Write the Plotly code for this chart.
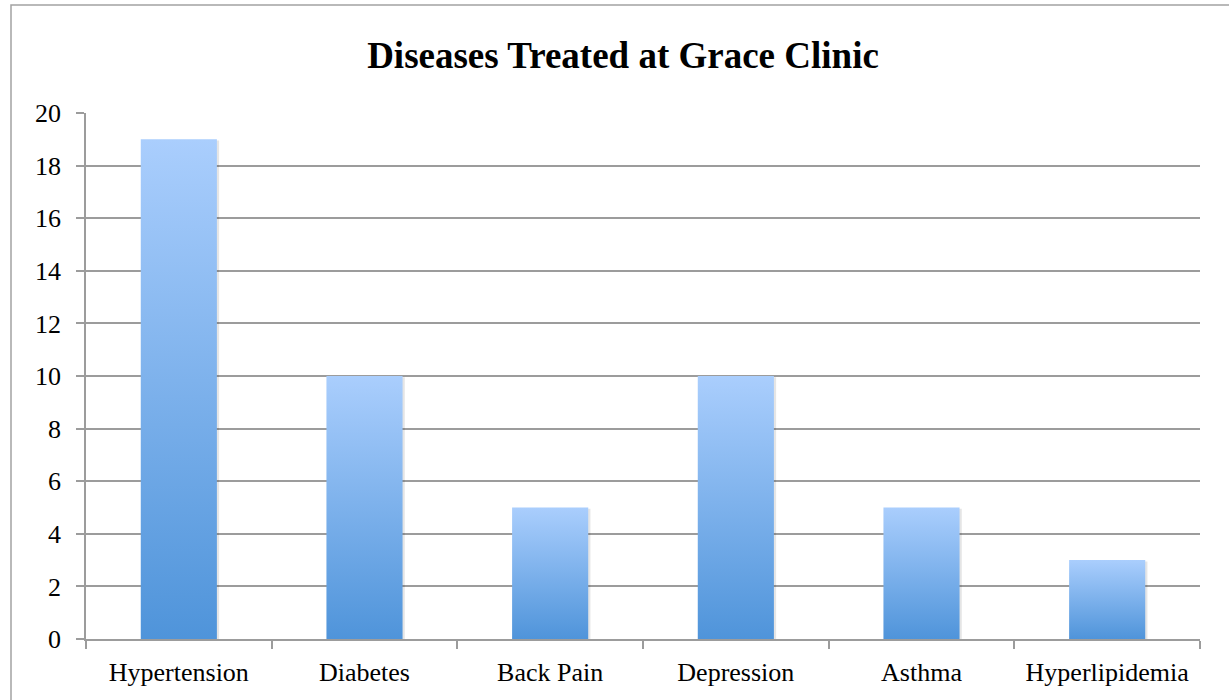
import plotly.graph_objects as go

# Disease counts for the clinic
diseases = ["Hypertension", "Diabetes", "Back Pain", "Depression", "Asthma", "Hyperlipidemia"]
patients = [19, 10, 5, 10, 5, 3]
y_ticks = [0, 2, 4, 6, 8, 10, 12, 14, 16, 18, 20]

BAR_WIDTH = 0.41
TOP_BLUE = "#aacefd"
BOTTOM_BLUE = "#4f94da"
GRID = "#9c9c9c"
FONT = "Liberation Serif, Times New Roman, serif"

fig = go.Figure()

# Base bar trace on the category axis (carries hover and the axis categories)
fig.add_trace(go.Bar(
    x=diseases, y=patients, width=BAR_WIDTH,
    marker=dict(color="rgba(0,0,0,0)", line=dict(width=0)),
    hovertemplate="%{x}: %{y}<extra></extra>",
    showlegend=False,
))

# Gradient fill for each bar, drawn on an overlaying numeric axis
for i, v in enumerate(patients):
    x0, x1 = i - BAR_WIDTH / 2, i + BAR_WIDTH / 2
    # soft shadow
    fig.add_trace(go.Scatter(
        x=[x0 + 0.012, x1 + 0.012, x1 + 0.012, x0 + 0.012, x0 + 0.012],
        y=[-0.12, -0.12, v - 0.05, v - 0.05, -0.12],
        fill="toself", mode="lines", line=dict(width=0),
        fillcolor="rgba(0,0,0,0.10)", hoverinfo="skip", showlegend=False,
        xaxis="x2",
    ))
    fig.add_trace(go.Scatter(
        x=[x0, x1, x1, x0, x0],
        y=[0, 0, v, v, 0],
        fill="toself", mode="lines", line=dict(width=0),
        fillgradient=dict(type="vertical", start=0, stop=v,
                          colorscale=[[0, BOTTOM_BLUE], [1, TOP_BLUE]]),
        hoverinfo="skip", showlegend=False,
        xaxis="x2",
    ))

L, R, T, B = 86, 29, 113, 61
W, H = 1229, 700
pw, ph = W - L - R, H - T - B

fig.update_layout(
    width=W, height=H,
    margin=dict(l=L, r=R, t=T, b=B, pad=0),
    paper_bgcolor="white", plot_bgcolor="white",
    font=dict(family=FONT, color="black", size=26),
    title=dict(
        text="<b>Diseases Treated at Grace Clinic</b>",
        font=dict(family=FONT, size=37, color="black"),
        x=623 / W, xanchor="center", xref="container",
        y=1 - 55 / H, yanchor="middle", yref="container",
    ),
    xaxis=dict(
        type="category", tickson="boundaries",
        ticks="outside", ticklen=8, tickcolor=GRID, tickwidth=1.5,
        showline=True, linecolor=GRID, linewidth=1.5,
        showgrid=False, zeroline=False,
        tickfont=dict(family=FONT, size=26, color="black"),
        ticklabelstandoff=9,
        range=[-0.5, 5.5],
    ),
    xaxis2=dict(
        overlaying="x", range=[-0.5, 5.5], visible=False,
    ),
    yaxis=dict(
        range=[0, 20], tickvals=y_ticks,
        ticks="outside", ticklen=8, tickcolor=GRID, tickwidth=1.5,
        showline=True, linecolor=GRID, linewidth=1.5,
        showgrid=True, gridcolor=GRID, gridwidth=1.5,
        zeroline=False,
        tickfont=dict(family=FONT, size=26, color="black"),
        ticklabelstandoff=10,
    ),
    bargap=0.59,
)

# Outer chart frame
fig.add_shape(
    type="rect", xref="paper", yref="paper",
    x0=(11 - L) / pw, x1=(1236 - L) / pw,
    y0=(H - B - 706) / ph, y1=(H - B - 5) / ph,
    line=dict(color="#a2a2a2", width=1.5), fillcolor="rgba(0,0,0,0)",
    layer="below",
)

fig.write_html("out.html")
